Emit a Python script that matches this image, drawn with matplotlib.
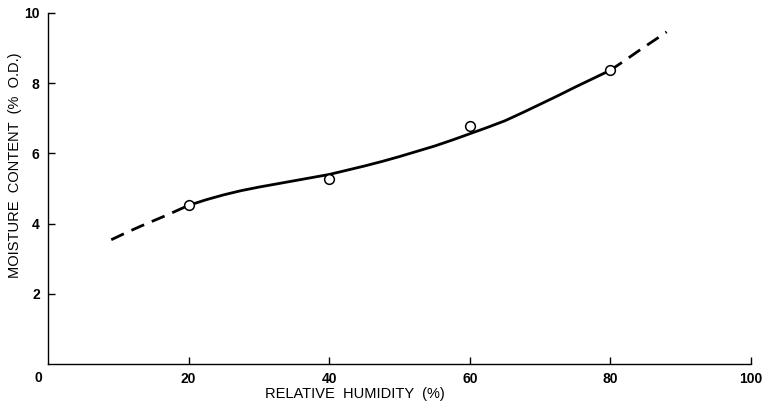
import matplotlib
matplotlib.use("Agg")
import matplotlib.pyplot as plt

# measured points
rh_pts = [20, 40, 60, 80]
mc_pts = [4.52, 5.26, 6.78, 8.37]

# fitted curve
rh_solid = [20, 22.5, 25, 27.5, 30, 32.5, 35, 37.5, 40, 42.5, 45, 47.5, 50,
            52.5, 55, 57.5, 60, 62.5, 65, 67.5, 70, 72.5, 75, 77.5, 80]
mc_solid = [4.52, 4.68, 4.82, 4.94, 5.04, 5.13, 5.22, 5.31, 5.40, 5.52, 5.64,
            5.77, 5.91, 6.06, 6.21, 6.38, 6.56, 6.74, 6.93, 7.16, 7.40, 7.64,
            7.89, 8.13, 8.37]
rh_dash_lo = [9, 11, 13, 15, 17, 19, 20]
mc_dash_lo = [3.54, 3.73, 3.91, 4.08, 4.25, 4.43, 4.52]
rh_dash_hi = [80, 82, 84, 86, 88]
mc_dash_hi = [8.37, 8.64, 8.92, 9.19, 9.46]

xticks = [20, 40, 60, 80, 100]
yticks = [2, 4, 6, 8, 10]

plt.rcParams['font.family'] = ['Liberation Sans', 'DejaVu Sans']

fig = plt.figure(figsize=(7.65, 4.05), dpi=100)
ax = fig.add_axes([48/765, 41/405, (751-48)/765, (364-13)/405])

ax.plot(rh_solid, mc_solid, color="black", lw=2.0, solid_capstyle="round",
        solid_joinstyle="round")
ax.plot(rh_dash_lo, mc_dash_lo, color="black", lw=2.0, dashes=(5, 3))
ax.plot(rh_dash_hi, mc_dash_hi, color="black", lw=2.0, dashes=(5, 3))
ax.plot(rh_pts, mc_pts, "o", ms=7, mfc="white", mec="black", mew=1.1, zorder=5)

ax.set_xlim(0, 100)
ax.set_ylim(0, 10)
ax.set_xticks(xticks)
ax.set_yticks(yticks)
ax.tick_params(direction="in", length=5, width=1, labelsize=10, pad=6)
for lab in ax.get_xticklabels() + ax.get_yticklabels():
    lab.set_fontweight("bold")
for s in ["top", "right"]:
    ax.spines[s].set_visible(False)
for s in ["left", "bottom"]:
    ax.spines[s].set_linewidth(1.0)

fig.text(38/765, 1 - 378/405, "0", ha="center", va="center",
         fontsize=10, fontweight="bold")
fig.text(355/765, 1 - 394/405, "RELATIVE  HUMIDITY  (%)", ha="center",
         va="center", fontsize=10.5)
fig.text(15/765, 1 - 165/405, "MOISTURE  CONTENT  (%  O.D.)", ha="center",
         va="center", rotation=90, fontsize=10.5)

fig.savefig("out.png", dpi=100)
